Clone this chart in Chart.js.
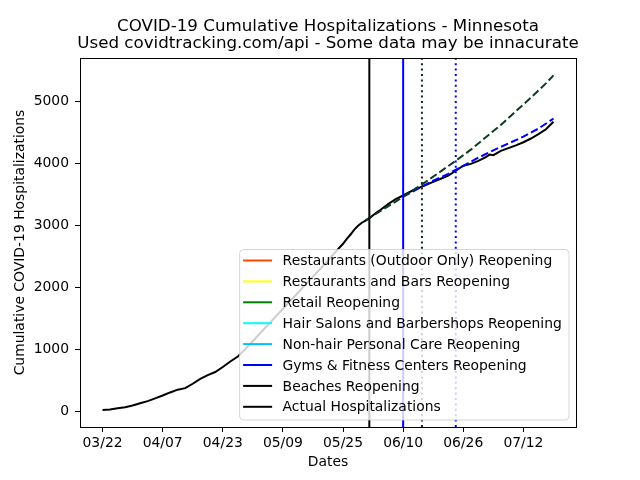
<!DOCTYPE html>
<html>
<head>
<meta charset="utf-8">
<script src="https://cdn.jsdelivr.net/npm/chart.js@4.4.0/dist/chart.umd.min.js"></script>
<style>
  html, body { margin: 0; padding: 0; background: #fff; }
  #wrap { width: 640px; height: 480px; }
</style>
</head>
<body>
<div id="wrap"><canvas id="hospChart" width="640" height="480"></canvas></div>
<script>
// text
const titleLines = ['COVID-19 Cumulative Hospitalizations - Minnesota', 'Used covidtracking.com/api - Some data may be innacurate'];
const yTitle = 'Cumulative COVID-19 Hospitalizations';
const xTitle = 'Dates';

// x is days since 03/22
const xTickDays = [0, 16, 32, 48, 64, 80, 96, 112];
const xTickLabels = ['03/22', '04/07', '04/23', '05/09', '05/25', '06/10', '06/26', '07/12'];
const yTicks = [0, 1000, 2000, 3000, 4000, 5000];
const xMin = -6, xMax = 126;
const yMin = -258, yMax = 5700;

// actual cumulative hospitalizations
const actualDays = [0, 2, 4, 6, 8, 10, 12, 14, 16, 18, 20, 22, 24, 26, 28, 30, 32, 34, 36, 38,
  40, 42, 44, 46, 48, 50, 52, 54, 56, 58, 60, 62, 64, 65, 66, 67, 68, 69, 70, 71, 72, 73, 74,
  76, 78, 80, 82, 84, 86, 88, 90, 92, 94, 96, 98, 100, 102, 103, 104, 106, 108, 110, 112,
  114, 116, 118, 120];
const actualValues = [16, 25, 45, 60, 90, 125, 160, 205, 250, 300, 345, 370, 440, 520, 580, 630, 710, 800, 880, 1000,
  1130, 1260, 1390, 1520, 1650, 1780, 1910, 2040, 2170, 2300, 2430, 2570, 2700, 2780, 2850, 2930, 2990, 3040, 3075, 3110, 3160, 3210, 3250,
  3340, 3420, 3480, 3545, 3600, 3650, 3700, 3750, 3800, 3880, 3960, 3990, 4040, 4100, 4140, 4130, 4200, 4245, 4290, 4340,
  4400, 4470, 4550, 4670];

// projection from 06/01
const trendDays = [70, 74, 78, 82, 86, 90, 94, 98, 102, 106, 110, 114, 118, 120];
const trendValues = [3080, 3230, 3380, 3540, 3700, 3870, 4040, 4220, 4420, 4620, 4840, 5060, 5290, 5420];

// projection from 06/10
const gymTrendDays = [80, 84, 88, 92, 96, 100, 104, 108, 112, 116, 120];
const gymTrendValues = [3460, 3590, 3720, 3830, 3960, 4090, 4210, 4320, 4430, 4560, 4720];

// reopening events (null = not on this plot)
const reopenLabels = ['Restaurants (Outdoor Only) Reopening', 'Restaurants and Bars Reopening', 'Retail Reopening',
  'Hair Salons and Barbershops Reopening', 'Non-hair Personal Care Reopening', 'Gyms & Fitness Centers Reopening', 'Beaches Reopening'];
const reopenColors = ['#ff4500', '#ffff00', '#008000', '#00ffff', '#00bfff', '#0000ff', '#000000'];
const reopenDays = [null, null, null, null, null, 80, 71];

// dotted check-in lines
const checkDays = [85, 94];
const checkColors = ['#0b2e17', '#0000ff'];

function vline(day) {
  return day === null ? [] : [{ x: day, y: yMin }, { x: day, y: yMax }];
}

const datasets = [];
reopenLabels.forEach((label, i) => {
  datasets.push({ label: label, data: vline(reopenDays[i]), borderColor: reopenColors[i], borderWidth: 2, inLegend: true });
});
checkDays.forEach((d, i) => {
  datasets.push({ label: 'check ' + i, data: vline(d), borderColor: checkColors[i], borderWidth: 2, borderDash: [2, 3.4] });
});
datasets.push({ label: 'trend', data: trendDays.map((d, i) => ({ x: d, y: trendValues[i] })), borderColor: '#0b3d22', borderWidth: 2, borderDash: [7.7, 3.3] });
datasets.push({ label: 'gym trend', data: gymTrendDays.map((d, i) => ({ x: d, y: gymTrendValues[i] })), borderColor: '#0000ff', borderWidth: 2, borderDash: [7.7, 3.3] });
datasets.push({ label: 'Actual Hospitalizations', data: actualDays.map((d, i) => ({ x: d, y: actualValues[i] })), borderColor: '#000000', borderWidth: 2, inLegend: true });

const FONT = '"DejaVu Sans", sans-serif';

const frameAndTitle = {
  id: 'frameAndTitle',
  afterDraw(chart) {
    const { ctx, chartArea } = chart;
    ctx.save();
    ctx.strokeStyle = '#000';
    ctx.lineWidth = 1;
    ctx.strokeRect(Math.round(chartArea.left) + 0.5, Math.round(chartArea.top) + 0.5,
      Math.round(chartArea.right - chartArea.left), Math.round(chartArea.bottom - chartArea.top));
    ctx.fillStyle = '#000';
    ctx.font = '16.7px ' + FONT;
    ctx.textAlign = 'center';
    ctx.textBaseline = 'middle';
    const cx = (chartArea.left + chartArea.right) / 2;
    ctx.fillText(titleLines[0], cx, 26.7);
    ctx.fillText(titleLines[1], cx, 43.7);
    ctx.restore();
  }
};

const legendBox = {
  id: 'legendBox',
  afterDatasetsDraw(chart) {
    const { ctx, chartArea } = chart;
    const items = chart.data.datasets.filter(d => d.inLegend);
    ctx.save();
    ctx.font = '13.9px ' + FONT;
    const textW = Math.max(...items.map(d => ctx.measureText(d.label).width));
    const w = 5.6 + 28 + 11 + textW + 5.6;
    const h = 170.5;
    const right = chartArea.right - 7, bottom = chartArea.bottom - 7;
    const left = right - w, top = bottom - h;
    ctx.beginPath();
    ctx.roundRect(left, top, w, h, 4);
    ctx.fillStyle = 'rgba(255,255,255,0.8)';
    ctx.fill();
    ctx.strokeStyle = 'rgba(204,204,204,0.8)';
    ctx.lineWidth = 1;
    ctx.stroke();
    ctx.textBaseline = 'middle';
    ctx.textAlign = 'left';
    items.forEach((d, i) => {
      const y = top + 11 + i * 20.9;
      ctx.beginPath();
      ctx.strokeStyle = d.borderColor;
      ctx.lineWidth = 2;
      ctx.moveTo(left + 3.5, y);
      ctx.lineTo(left + 32.5, y);
      ctx.stroke();
      ctx.fillStyle = '#000';
      ctx.fillText(d.label, left + 43, y + 1);
    });
    ctx.restore();
  }
};

new Chart(document.getElementById('hospChart'), {
  type: 'line',
  data: { datasets: datasets },
  options: {
    responsive: false,
    animation: false,
    devicePixelRatio: 1,
    layout: { padding: { top: 58, right: 64, left: 0, bottom: 0 } },
    elements: { point: { radius: 0 }, line: { tension: 0 } },
    plugins: { legend: { display: false }, tooltip: { enabled: false }, title: { display: false } },
    scales: {
      x: {
        type: 'linear', min: xMin, max: xMax,
        afterBuildTicks: s => { s.ticks = xTickDays.map(v => ({ value: v })); },
        afterFit: s => { s.height = 53; },
        ticks: {
          color: '#000', font: { family: FONT, size: 13.9 }, padding: 3, maxRotation: 0, autoSkip: false,
          callback: v => xTickLabels[xTickDays.indexOf(v)] ?? ''
        },
        grid: { drawOnChartArea: false, color: '#000', tickLength: 5 },
        border: { color: '#000', width: 1 },
        title: { display: true, text: xTitle, color: '#000', font: { family: FONT, size: 13.9 }, padding: { top: 0, bottom: 9.6 } }
      },
      y: {
        type: 'linear', min: yMin, max: yMax,
        afterBuildTicks: s => { s.ticks = yTicks.map(v => ({ value: v })); },
        afterFit: s => { s.width = 80; },
        ticks: { color: '#000', font: { family: FONT, size: 13.9 }, padding: 6, callback: v => String(v) },
        grid: { drawOnChartArea: false, color: '#000', tickLength: 5 },
        border: { color: '#000', width: 1 },
        title: { display: true, text: yTitle, color: '#000', font: { family: FONT, size: 13.9 }, padding: { top: 12, bottom: 0 } }
      }
    }
  },
  plugins: [legendBox, frameAndTitle]
});
</script>
</body>
</html>
